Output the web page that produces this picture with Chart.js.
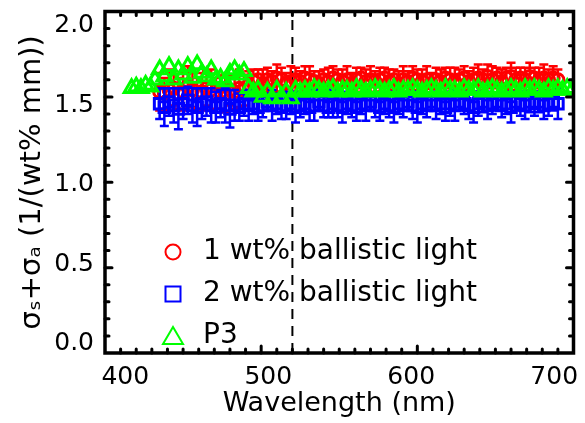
<!DOCTYPE html>
<html>
<head>
<meta charset="utf-8">
<script src="https://cdn.jsdelivr.net/npm/chart.js@4/dist/chart.umd.min.js"></script>
<style>
  html, body { margin: 0; padding: 0; background: #fff; }
  #chart_container { width: 585px; height: 423px; }
</style>
</head>
<body>
<div id="chart_container"><canvas id="myChart" width="585" height="423"></canvas></div>
<script>
/* wavelengths (nm) of the two ballistic light runs */
let wl_ballistic = [435,438,441,444,447,450,453,456,459,462,
                    465,468,471,474,477,480,483,486,489,492,
                    495,498,501,504,507,510,513,516,519,522,
                    525,528,531,534,537,540,543,546,549,552,
                    555,558,561,564,567,570,573,576,579,582,
                    585,588,591,594,597,600,603,606,609,612,
                    615,618,621,624,627,630,633,636,639,642,
                    645,648,651,654,657,660,663,666,669,672,
                    675,678,681,684,687,690];

/* 1 wt% ballistic light, sigma_s+sigma_a and its error */
let sigma_1wt = [1.53,1.52,1.54,1.55,1.52,1.53,1.56,1.54,1.52,1.53,
                 1.55,1.54,1.52,1.53,1.52,1.54,1.53,1.55,1.54,1.57,
                 1.59,1.60,1.58,1.60,1.59,1.61,1.60,1.58,1.59,1.60,
                 1.59,1.61,1.60,1.59,1.58,1.60,1.59,1.61,1.60,1.59,
                 1.60,1.58,1.60,1.61,1.59,1.60,1.59,1.60,1.61,1.59,
                 1.60,1.58,1.60,1.59,1.61,1.60,1.59,1.60,1.58,1.60,
                 1.59,1.61,1.60,1.59,1.60,1.61,1.59,1.60,1.61,1.60,
                 1.62,1.60,1.61,1.59,1.61,1.62,1.60,1.61,1.60,1.62,
                 1.61,1.60,1.61,1.60,1.61,1.60];
let err_1wt = [0.11,0.09,0.12,0.10,0.09,0.11,0.12,0.10,0.09,0.11,
               0.10,0.12,0.09,0.10,0.11,0.09,0.10,0.11,0.09,0.08,
               0.07,0.06,0.08,0.07,0.06,0.08,0.07,0.06,0.09,0.07,
               0.06,0.07,0.08,0.06,0.07,0.06,0.08,0.07,0.06,0.07,
               0.08,0.06,0.07,0.06,0.07,0.08,0.06,0.07,0.06,0.07,
               0.06,0.07,0.08,0.06,0.07,0.06,0.07,0.08,0.06,0.07,
               0.07,0.06,0.07,0.08,0.06,0.07,0.06,0.07,0.08,0.06,
               0.07,0.08,0.06,0.07,0.06,0.08,0.07,0.06,0.07,0.08,
               0.06,0.07,0.08,0.06,0.07,0.06];

/* 2 wt% ballistic light */
let sigma_2wt = [1.46,1.44,1.47,1.45,1.43,1.46,1.48,1.45,1.44,1.46,
                 1.47,1.45,1.44,1.46,1.45,1.43,1.45,1.44,1.46,1.45,
                 1.46,1.44,1.45,1.47,1.45,1.46,1.44,1.45,1.46,1.44,
                 1.45,1.46,1.44,1.45,1.47,1.45,1.44,1.46,1.45,1.44,
                 1.46,1.45,1.44,1.46,1.45,1.47,1.45,1.44,1.46,1.45,
                 1.44,1.46,1.45,1.47,1.45,1.44,1.46,1.45,1.47,1.45,
                 1.46,1.44,1.46,1.45,1.47,1.46,1.45,1.44,1.46,1.47,
                 1.45,1.46,1.47,1.45,1.46,1.44,1.47,1.46,1.45,1.47,
                 1.46,1.47,1.45,1.46,1.47,1.46];
let err_2wt = [0.09,0.11,0.08,0.10,0.12,0.09,0.08,0.10,0.11,0.09,
               0.08,0.10,0.09,0.08,0.10,0.11,0.09,0.08,0.07,0.09,
               0.06,0.08,0.07,0.05,0.09,0.06,0.07,0.08,0.06,0.09,
               0.07,0.06,0.08,0.09,0.05,0.07,0.06,0.08,0.07,0.09,
               0.06,0.07,0.08,0.06,0.09,0.05,0.07,0.08,0.06,0.07,
               0.09,0.06,0.07,0.05,0.08,0.09,0.06,0.07,0.05,0.08,
               0.06,0.08,0.07,0.09,0.05,0.06,0.08,0.09,0.07,0.06,
               0.08,0.06,0.05,0.07,0.06,0.09,0.05,0.07,0.08,0.06,
               0.07,0.06,0.08,0.07,0.05,0.09];

/* P3 model */
let wl_p3 = [417,420,423,426,429,432,435,438,441,444,
             447,450,453,456,459,462,465,468,471,474,
             477,480,483,486,489,492,495,498,501,504,
             507,510,513,516,519,522,525,528,531,534,
             537,540,543,546,549,552,555,558,561,564,
             567,570,573,576,579,582,585,588,591,594,
             597,600,603,606,609,612,615,618,621,624,
             627,630,633,636,639,642,645,648,651,654,
             657,660,663,666,669,672,675,678,681,684,
             687,690,693,696,699];
let sigma_p3 = [1.55,1.56,1.55,1.57,1.56,1.60,1.66,1.62,1.68,1.60,
                1.66,1.63,1.68,1.61,1.69,1.64,1.62,1.66,1.60,1.61,
                1.59,1.64,1.66,1.63,1.65,1.55,1.53,1.54,1.50,1.53,
                1.49,1.54,1.50,1.53,1.49,1.54,1.53,1.54,1.53,1.55,
                1.54,1.53,1.54,1.55,1.53,1.54,1.54,1.53,1.55,1.54,
                1.53,1.54,1.55,1.54,1.53,1.54,1.55,1.53,1.54,1.54,
                1.55,1.54,1.53,1.54,1.55,1.54,1.53,1.55,1.54,1.54,
                1.53,1.55,1.54,1.54,1.55,1.53,1.54,1.55,1.54,1.53,
                1.54,1.55,1.54,1.53,1.55,1.54,1.55,1.54,1.53,1.55,
                1.54,1.55,1.54,1.55,1.54];

let cutoff_wl = 520;            /* dashed vertical line */
let x_ticks = [400, 500, 600, 700];
let y_ticks = [0.0, 0.5, 1.0, 1.5, 2.0];
let series_names = ['1 wt% ballistic light', '2 wt% ballistic light', 'P3'];
let series_colors = ['#ff0000', '#0000ff', '#00ff00'];

Chart.defaults.font.family = "'DejaVu Sans', sans-serif";
Chart.defaults.color = '#000';

function points(xs, ys) {
    let out = [];
    for (let i = 0; i < xs.length; i++) out.push({x: xs[i], y: ys[i]});
    return out;
}

/* legend symbols, drawn a bit larger than the data markers like the original */
function legendMarker(shape, color) {
    let c = document.createElement('canvas');
    c.width = 26; c.height = 26;
    let g = c.getContext('2d');
    g.strokeStyle = color;
    g.lineWidth = 2;
    g.beginPath();
    if (shape == 'circle') {
        g.arc(13, 13, 7.5, 0, Math.PI * 2);
    } else if (shape == 'rect') {
        g.rect(5.5, 5.5, 15, 15);
    } else {
        g.moveTo(13, 4); g.lineTo(23, 21); g.lineTo(3, 21); g.closePath();
    }
    g.stroke();
    return c;
}
let legend_markers = [legendMarker('circle', series_colors[0]),
                      legendMarker('rect', series_colors[1]),
                      legendMarker('triangle', series_colors[2])];

/* label axes should not push the plot box around */
function noPadding(s) {
    s.paddingTop = 0; s.paddingBottom = 0;
    s.paddingLeft = 0; s.paddingRight = 0;
}

/* error bars, frame and inward ticks */
const framePlugin = {
    id: 'frame',
    afterLayout(chart) {
        /* put the legend in the lower left corner of the plot box */
        const lg = chart.legend, ca = chart.chartArea;
        lg.left = ca.left + 38;
        lg.top = ca.top + 11;
        lg.bottom = ca.bottom + 11;
    },
    beforeDatasetDraw(chart, args) {
        const ds = chart.data.datasets[args.index];
        if (!ds.errors) return;
        const ctx = chart.ctx, xs = chart.scales.x, ys = chart.scales.y;
        const ca = chart.chartArea;
        ctx.save();
        ctx.beginPath();
        ctx.rect(ca.left, ca.top, ca.right - ca.left, ca.bottom - ca.top);
        ctx.clip();
        ctx.strokeStyle = ds.borderColor;
        ctx.lineWidth = 2.5;
        ds.data.forEach((p, i) => {
            const px = xs.getPixelForValue(p.x);
            const hi = ys.getPixelForValue(p.y + ds.errors[i]);
            const lo = ys.getPixelForValue(p.y - ds.errors[i]);
            ctx.beginPath();
            ctx.moveTo(px, hi); ctx.lineTo(px, lo);
            ctx.moveTo(px - 4.5, hi); ctx.lineTo(px + 4.5, hi);
            ctx.moveTo(px - 4.5, lo); ctx.lineTo(px + 4.5, lo);
            ctx.stroke();
        });
        ctx.restore();
    },
    afterDraw(chart) {
        const ctx = chart.ctx, ca = chart.chartArea;
        const xs = chart.scales.x, ys = chart.scales.y;
        ctx.save();
        ctx.strokeStyle = '#000';
        ctx.lineWidth = 3;
        ctx.lineCap = 'round';
        ctx.beginPath();
        for (let v = 410; v < 700; v += 10) {
            const len = (v % 100 == 0) ? 7 : 4;
            const px = xs.getPixelForValue(v);
            ctx.moveTo(px, ca.bottom); ctx.lineTo(px, ca.bottom - len);
            ctx.moveTo(px, ca.top); ctx.lineTo(px, ca.top + len);
        }
        for (let k = 1; k < 20; k++) {
            const len = (k % 5 == 0) ? 7 : 4;
            const py = ys.getPixelForValue(k / 10);
            ctx.moveTo(ca.left, py); ctx.lineTo(ca.left + len, py);
            ctx.moveTo(ca.right, py); ctx.lineTo(ca.right - len, py);
        }
        ctx.stroke();
        ctx.lineCap = 'butt';
        ctx.lineWidth = 3.5;
        ctx.strokeRect(ca.left, ca.top, ca.right - ca.left, ca.bottom - ca.top);
        ctx.restore();
    }
};

const ctx = document.getElementById('myChart').getContext('2d');
const myChart = new Chart(ctx, {
    type: 'scatter',
    data: {
        datasets: [{
            label: series_names[0],
            data: points(wl_ballistic, sigma_1wt),
            errors: err_1wt,
            borderColor: series_colors[0],
            backgroundColor: 'rgba(0,0,0,0)',
            pointStyle: 'circle',
            pointRadius: 6,
            borderWidth: 3,
            order: 3
        }, {
            label: series_names[1],
            data: points(wl_ballistic, sigma_2wt),
            errors: err_2wt,
            borderColor: series_colors[1],
            backgroundColor: 'rgba(0,0,0,0)',
            pointStyle: 'rect',
            pointRadius: 7.5,
            borderWidth: 3,
            order: 2
        }, {
            label: series_names[2],
            data: points(wl_p3, sigma_p3),
            borderColor: series_colors[2],
            backgroundColor: 'rgba(0,0,0,0)',
            pointStyle: 'triangle',
            pointRadius: 8.5,
            borderWidth: 3,
            order: 1
        }, {
            label: 'cutoff',
            data: [{x: cutoff_wl, y: 0}, {x: cutoff_wl, y: 2}],
            showLine: true,
            borderColor: '#000',
            borderWidth: 2,
            borderDash: [10, 7],
            pointRadius: 0,
            order: 4
        }]
    },
    options: {
        responsive: false,
        animation: false,
        devicePixelRatio: 1,
        layout: { padding: { top: 11, right: 7.5, left: 0, bottom: 0 } },
        scales: {
            x: { type: 'linear', min: 400, max: 700, display: false },
            y: { type: 'linear', min: 0, max: 2, display: false },
            xl: {
                type: 'linear', axis: 'x', position: 'bottom',
                min: 385.8, max: 713.5,
                grid: { display: false, drawTicks: false },
                border: { display: false },
                afterBuildTicks: (s) => { s.ticks = x_ticks.map(v => ({value: v})); },
                afterFit: (s) => { s.height = 70; noPadding(s); },
                ticks: { font: { size: 25 }, color: '#000', padding: 9, maxRotation: 0, autoSkip: false },
                title: { display: true, text: 'Wavelength (nm)', color: '#000',
                         font: { size: 27 }, padding: { top: 0, bottom: 3 } }
            },
            yl: {
                type: 'linear', axis: 'y', position: 'left',
                min: -0.058, max: 2.09,
                grid: { display: false, drawTicks: false },
                border: { display: false },
                afterBuildTicks: (s) => { s.ticks = y_ticks.map(v => ({value: v})); },
                afterFit: (s) => { s.width = 105; noPadding(s); },
                ticks: { font: { size: 25 }, color: '#000', padding: 11,
                         callback: (v) => v.toFixed(1) },
                title: { display: true, text: 'σₛ+σₐ (1/(wt% mm))', color: '#000',
                         font: { size: 29 }, padding: { top: 15, bottom: 0 } }
            }
        },
        plugins: {
            tooltip: { enabled: false },
            legend: {
                position: 'chartArea',
                align: 'end',
                labels: {
                    usePointStyle: true,
                    pointStyleWidth: 32,
                    padding: 14,
                    color: '#000',
                    font: { size: 28 },
                    generateLabels: () => series_names.map((name, i) => ({
                        text: name,
                        datasetIndex: i,
                        fillStyle: 'rgba(0,0,0,0)',
                        strokeStyle: series_colors[i],
                        lineWidth: 2,
                        pointStyle: legend_markers[i],
                        hidden: false,
                        fontColor: '#000'
                    }))
                }
            }
        }
    },
    plugins: [framePlugin]
});
</script>
</body>
</html>
